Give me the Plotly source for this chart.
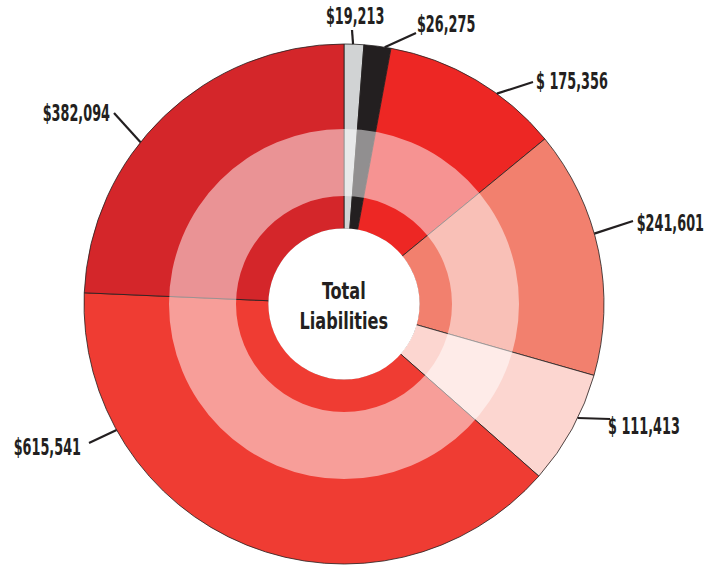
import math
import plotly.graph_objects as go

# ---- data ----
labels = ["Item A", "Item B", "Item C", "Item D", "Item E", "Item F", "Item G"]
values = [19213, 26275, 175356, 241601, 111413, 615541, 382094]
value_text = ["$19,213", "$26,275", "$ 175,356", "$241,601", "$ 111,413", "$615,541", "$382,094"]
colors = ["#d1d3d4", "#231f20", "#ed2724", "#f2806e", "#fcd6d0", "#ef3c33", "#d4262a"]
center_title = "Total<br>Liabilities"

# ---- layout (pixels) ----
W, H = 721, 566
CX, CY = 344, 304
R_OUT, R_MID_OUT, R_MID_IN, R_HOLE = 260, 175, 108, 75
FONT = "DejaVu Sans Condensed, DejaVu Sans, sans-serif"
INK = "#231f20"

# leader meets circle at angle (deg clockwise from top); label centre; leader end near label
label_angle = [2.0, 9.0, 36.0, 74.3, 116.0, 241.0, 308.5]
label_center = [(355, 16), (446, 24), (572, 81), (670, 223), (644, 426), (47, 447), (76, 113)]
label_line_end = [(352, 30), (416, 33), (533, 82), (633, 221), (610, 419), (89, 443), (114, 113)]


def dom(r):
    return dict(x=[(CX - r) / W, (CX + r) / W], y=[1 - (CY + r) / H, 1 - (CY - r) / H])


def px(x, y):
    return x / W, 1 - y / H


fig = go.Figure()
fig.add_trace(go.Pie(
    labels=labels, values=values, sort=False, direction="clockwise", rotation=0,
    hole=R_HOLE / R_OUT, domain=dom(R_OUT), textinfo="none", hoverinfo="label+value",
    marker=dict(colors=colors, line=dict(color=INK, width=0.8)), showlegend=False,
))
# translucent white band
fig.add_trace(go.Pie(
    values=[1], sort=False, hole=R_MID_IN / R_MID_OUT, domain=dom(R_MID_OUT), textinfo="none",
    hoverinfo="skip", marker=dict(colors=["rgba(255,255,255,0.5)"], line=dict(width=0)),
    showlegend=False,
))
# white centre disc
fig.add_trace(go.Pie(
    values=[1], sort=False, hole=0, domain=dom(R_HOLE + 0.6), textinfo="none",
    hoverinfo="skip", marker=dict(colors=["#ffffff"], line=dict(width=0)), showlegend=False,
))

shapes = []
annotations = []
for i, txt in enumerate(value_text):
    a = math.radians(label_angle[i])
    x0 = CX + R_OUT * math.sin(a)
    y0 = CY - R_OUT * math.cos(a)
    x1, y1 = label_line_end[i]
    p0 = px(x0, y0)
    p1 = px(x1, y1)
    shapes.append(dict(type="line", xref="paper", yref="paper", x0=p0[0], y0=p0[1], x1=p1[0], y1=p1[1],
                       line=dict(color=INK, width=2.2)))
    tx, ty = px(*label_center[i])
    annotations.append(dict(x=tx, y=ty, xref="paper", yref="paper", text="<b>" + txt + "</b>",
                            showarrow=False, xanchor="center", yanchor="middle",
                            font=dict(family=FONT, size=23, color=INK)))

cx_p, cy_p = px(CX, CY + 2)
annotations.append(dict(x=cx_p, y=cy_p, xref="paper", yref="paper", text="<b>" + center_title + "</b>",
                        showarrow=False, xanchor="center", yanchor="middle", align="center",
                        font=dict(family=FONT, size=23, color=INK)))

fig.update_layout(
    width=W, height=H, margin=dict(l=0, r=0, t=0, b=0),
    paper_bgcolor="white", plot_bgcolor="white",
    shapes=shapes, annotations=annotations,
)

# condense the label glyphs horizontally (the original uses a narrow display face)
post = """
document.body.style.margin='0px';
var gd=document.getElementById('{plot_id}');
gd.querySelectorAll('text.annotation-text').forEach(function(t){
  var s = t.querySelectorAll('tspan.line').length ? 0.78 : 0.62;
  var b = t.getBBox();
  var cx = b.x + b.width/2;
  var prev = t.getAttribute('transform') || '';
  t.setAttribute('transform', prev + ' translate(' + cx + ',0) scale(' + s + ',1) translate(' + (-cx) + ',0)');
});
"""
fig.write_html("out.html", config={"displayModeBar": False}, post_script=post)
